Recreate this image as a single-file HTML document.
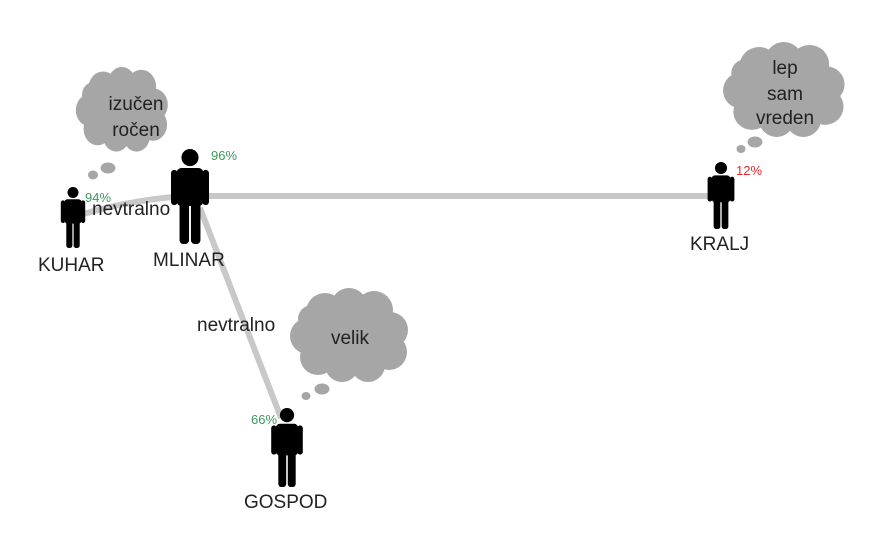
<!DOCTYPE html>
<html><head><meta charset="utf-8"><style>
html,body{margin:0;padding:0;background:#fff;}
svg{display:block;font-family:"Liberation Sans",sans-serif;}
</style></head><body>
<svg width="873" height="538" viewBox="0 0 873 538" xmlns="http://www.w3.org/2000/svg">
<defs>
<g id="cloud" fill="#a6a6a6">
<ellipse cx="60" cy="48" rx="46" ry="34"/>
<circle cx="36" cy="24" r="19"/><circle cx="60" cy="18" r="18"/><circle cx="85" cy="22" r="19"/>
<circle cx="101" cy="42" r="18"/><circle cx="100" cy="64" r="18"/><circle cx="79" cy="77" r="17"/>
<circle cx="53" cy="77" r="17"/><circle cx="29" cy="69" r="18"/><circle cx="19" cy="48" r="18"/><circle cx="23" cy="31" r="14"/>
</g>
<g id="person" fill="#000">
<circle cx="0" cy="9" r="9"/>
<rect x="-14" y="20" width="28" height="40" rx="5"/>
<rect x="-20" y="22" width="7" height="37" rx="3.5"/>
<rect x="13" y="22" width="7" height="37" rx="3.5"/>
<rect x="-11" y="52" width="10" height="48" rx="4"/>
<rect x="1" y="52" width="10" height="48" rx="4"/>
</g>
</defs>
<g stroke="#c8c8c8" stroke-width="6" fill="none">
<line x1="195" y1="196" x2="715" y2="196"/>
<path d="M80 215 Q130 200 185 196"/>
<line x1="200" y1="208" x2="281" y2="418"/>
</g>
<use href="#cloud" transform="translate(75,67) scale(0.78,0.9)"/>
<ellipse cx="93" cy="175" rx="5" ry="4.5" fill="#a6a6a6"/>
<ellipse cx="108" cy="168" rx="7.5" ry="5.5" fill="#a6a6a6"/>
<use href="#cloud" transform="translate(722,42) scale(1.03,1.01)"/>
<ellipse cx="741" cy="149" rx="4.5" ry="4" fill="#a6a6a6"/>
<ellipse cx="755" cy="142" rx="7.5" ry="5.5" fill="#a6a6a6"/>
<use href="#cloud" transform="translate(289,288)"/>
<ellipse cx="306" cy="396" rx="4.5" ry="4" fill="#a6a6a6"/>
<ellipse cx="322" cy="389" rx="7.5" ry="5.5" fill="#a6a6a6"/>
<use href="#person" transform="translate(190,149) scale(0.95)"/>
<use href="#person" transform="translate(73,187) scale(0.61)"/>
<use href="#person" transform="translate(721,162) scale(0.67)"/>
<use href="#person" transform="translate(287,408) scale(0.79)"/>
<g font-size="19" fill="#222" text-anchor="middle">
<text x="136" y="110">izučen</text><text x="136" y="136">ročen</text>
<text x="785" y="74">lep</text><text x="785" y="100">sam</text><text x="785" y="124">vreden</text>
<text x="350" y="344">velik</text>
</g>
<g font-size="19" fill="#222">
<text x="92" y="215">nevtralno</text>
<text x="197" y="331">nevtralno</text>
<text x="38" y="271">KUHAR</text>
<text x="153" y="266">MLINAR</text>
<text x="690" y="250">KRALJ</text>
<text x="244" y="508">GOSPOD</text>
</g>
<g font-size="13">
<text x="211" y="160" fill="#3a9a5a">96%</text>
<text x="85" y="202" fill="#3a9a5a">94%</text>
<text x="736" y="175" fill="#e8282e">12%</text>
<text x="251" y="424" fill="#3a9a5a">66%</text>
</g>
</svg>
</body></html>
